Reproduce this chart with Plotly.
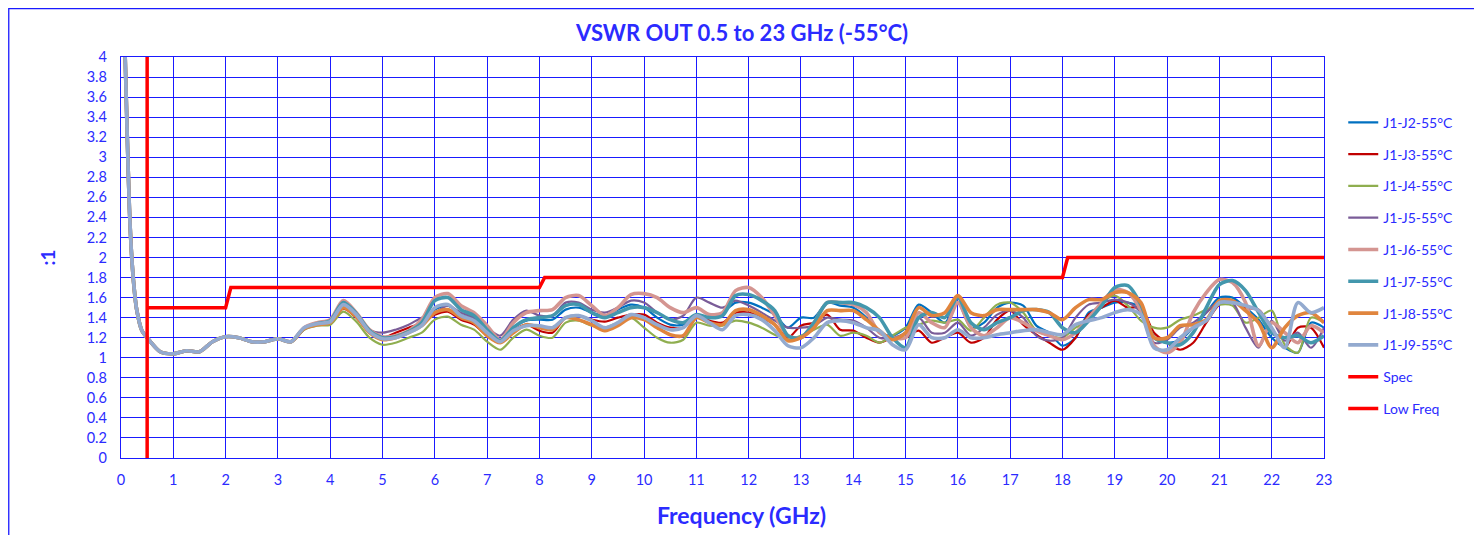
import plotly.graph_objects as go

BLUE = '#1a1aff'
TEXT_BLUE = '#2b2bff'
FONT = 'Lato, Calibri, sans-serif'

# frequency points (GHz)
FREQ = [0.05, 0.08, 0.12, 0.16, 0.2, 0.25, 0.3, 0.4, 0.5, 0.75, 1.0, 1.25, 1.5, 1.75, 2.0,
        2.25, 2.5, 2.75, 3.0, 3.25,
        3.5, 3.75, 4.0, 4.25, 4.5, 4.75, 5.0, 5.25, 5.5, 5.75, 6.0, 6.25, 6.5, 6.75, 7.0,
        7.25, 7.5, 7.75, 8.0, 8.25, 8.5, 8.75, 9.0, 9.25, 9.5, 9.75, 10.0, 10.25, 10.5,
        10.75, 11.0, 11.25, 11.5, 11.75, 12.0, 12.25, 12.5, 12.75, 13.0, 13.25, 13.5,
        13.75, 14.0, 14.25, 14.5, 14.75, 15.0, 15.25, 15.5, 15.75, 16.0, 16.25, 16.5,
        16.75, 17.0, 17.25, 17.5, 17.75, 18.0, 18.25, 18.5, 18.75, 19.0, 19.25, 19.5,
        19.75, 20.0, 20.25, 20.5, 20.75, 21.0, 21.25, 21.5, 21.75, 22.0, 22.25, 22.5,
        22.75, 23.0]

# all ports overlap below 3.5 GHz
LOW_BAND = [4.6, 4.0, 3.2, 2.5, 2.05, 1.7, 1.48, 1.27, 1.2, 1.06, 1.04, 1.07, 1.06, 1.16, 1.21,
            1.2, 1.16, 1.16, 1.19, 1.16]

J2 = LOW_BAND + [1.29, 1.34, 1.36, 1.52, 1.42, 1.26, 1.18, 1.2, 1.26, 1.32, 1.48, 1.52, 1.43, 1.38, 1.25,
                 1.17, 1.3, 1.37, 1.38, 1.38, 1.48, 1.5, 1.45, 1.42, 1.48, 1.53, 1.5, 1.4, 1.33,
                 1.33, 1.4, 1.4, 1.45, 1.55, 1.55, 1.5, 1.43, 1.3, 1.4, 1.4, 1.55, 1.52, 1.5, 1.4,
                 1.25, 1.22, 1.3, 1.53, 1.45, 1.35, 1.55, 1.3, 1.35, 1.5, 1.55, 1.52, 1.32, 1.25,
                 1.12, 1.2, 1.45, 1.5, 1.55, 1.55, 1.5, 1.2, 1.15, 1.18, 1.3, 1.45, 1.6, 1.6, 1.5,
                 1.38, 1.2, 1.1, 1.05, 1.35, 1.3]
J3 = LOW_BAND + [1.29, 1.33, 1.35, 1.49, 1.4, 1.25, 1.2, 1.25, 1.3, 1.35, 1.43, 1.46, 1.38, 1.33, 1.22,
                 1.15, 1.27, 1.33, 1.27, 1.25, 1.4, 1.42, 1.38, 1.36, 1.4, 1.43, 1.43, 1.35, 1.3,
                 1.3, 1.42, 1.37, 1.35, 1.45, 1.45, 1.4, 1.33, 1.2, 1.32, 1.35, 1.43, 1.28, 1.27,
                 1.2, 1.15, 1.2, 1.2, 1.27, 1.15, 1.2, 1.25, 1.15, 1.2, 1.38, 1.47, 1.33, 1.23,
                 1.15, 1.08, 1.2, 1.43, 1.5, 1.57, 1.5, 1.5, 1.25, 1.15, 1.08, 1.15, 1.35, 1.53,
                 1.57, 1.5, 1.48, 1.3, 1.1, 1.3, 1.3, 1.1]
J4 = LOW_BAND + [1.28, 1.32, 1.33, 1.46, 1.36, 1.2, 1.13, 1.15, 1.2, 1.25, 1.38, 1.41, 1.33, 1.28, 1.16,
                 1.08, 1.2, 1.28, 1.22, 1.2, 1.35, 1.37, 1.32, 1.3, 1.35, 1.4, 1.3, 1.2, 1.15,
                 1.18, 1.35, 1.32, 1.32, 1.37, 1.35, 1.3, 1.23, 1.18, 1.22, 1.28, 1.33, 1.22, 1.25,
                 1.22, 1.15, 1.22, 1.3, 1.33, 1.37, 1.35, 1.38, 1.27, 1.4, 1.53, 1.55, 1.45, 1.27,
                 1.22, 1.2, 1.3, 1.37, 1.55, 1.62, 1.52, 1.37, 1.3, 1.3, 1.38, 1.42, 1.48, 1.53,
                 1.52, 1.35, 1.4, 1.47, 1.13, 1.05, 1.4, 1.35]
J5 = LOW_BAND + [1.3, 1.35, 1.37, 1.52, 1.43, 1.28, 1.25, 1.28, 1.33, 1.4, 1.45, 1.52, 1.45, 1.4, 1.3,
                 1.22, 1.38, 1.47, 1.42, 1.42, 1.55, 1.55, 1.48, 1.45, 1.5, 1.57, 1.55, 1.45, 1.38,
                 1.42, 1.6, 1.55, 1.5, 1.57, 1.52, 1.45, 1.37, 1.3, 1.3, 1.32, 1.4, 1.38, 1.37,
                 1.3, 1.2, 1.2, 1.25, 1.4, 1.25, 1.25, 1.35, 1.22, 1.3, 1.43, 1.47, 1.4, 1.22,
                 1.17, 1.2, 1.4, 1.53, 1.55, 1.58, 1.55, 1.45, 1.15, 1.18, 1.3, 1.35, 1.45, 1.57,
                 1.55, 1.3, 1.1, 1.37, 1.17, 1.25, 1.1, 1.3]
J6 = LOW_BAND + [1.3, 1.35, 1.38, 1.57, 1.45, 1.28, 1.21, 1.22, 1.27, 1.38, 1.6, 1.64, 1.52, 1.45, 1.32,
                 1.18, 1.35, 1.45, 1.47, 1.48, 1.6, 1.62, 1.52, 1.42, 1.5, 1.63, 1.64, 1.6, 1.5,
                 1.45, 1.5, 1.43, 1.45, 1.67, 1.7, 1.6, 1.42, 1.22, 1.2, 1.35, 1.55, 1.55, 1.53,
                 1.45, 1.25, 1.2, 1.2, 1.45, 1.35, 1.3, 1.55, 1.3, 1.22, 1.3, 1.4, 1.35, 1.27,
                 1.22, 1.18, 1.25, 1.4, 1.55, 1.68, 1.65, 1.47, 1.12, 1.05, 1.15, 1.45, 1.65, 1.78,
                 1.75, 1.55, 1.12, 1.35, 1.25, 1.15, 1.32, 1.25]
J7 = LOW_BAND + [1.29, 1.34, 1.37, 1.55, 1.44, 1.27, 1.2, 1.21, 1.26, 1.35, 1.57, 1.6, 1.48, 1.42, 1.28,
                 1.17, 1.3, 1.38, 1.4, 1.42, 1.52, 1.53, 1.45, 1.4, 1.45, 1.5, 1.5, 1.45, 1.38,
                 1.35, 1.43, 1.4, 1.42, 1.62, 1.63, 1.57, 1.47, 1.22, 1.2, 1.35, 1.55, 1.55, 1.55,
                 1.5, 1.4, 1.2, 1.1, 1.4, 1.45, 1.4, 1.6, 1.35, 1.28, 1.35, 1.4, 1.47, 1.48, 1.45,
                 1.3, 1.25, 1.37, 1.52, 1.7, 1.72, 1.53, 1.2, 1.15, 1.13, 1.25, 1.5, 1.73, 1.77,
                 1.67, 1.45, 1.25, 1.2, 1.22, 1.15, 1.22]
J8 = LOW_BAND + [1.29, 1.33, 1.35, 1.5, 1.41, 1.25, 1.18, 1.2, 1.25, 1.32, 1.45, 1.48, 1.4, 1.35, 1.22,
                 1.15, 1.25, 1.33, 1.3, 1.28, 1.4, 1.38, 1.33, 1.27, 1.32, 1.4, 1.38, 1.3, 1.23,
                 1.22, 1.4, 1.35, 1.33, 1.47, 1.48, 1.42, 1.33, 1.17, 1.2, 1.3, 1.47, 1.47, 1.47,
                 1.38, 1.27, 1.18, 1.25, 1.5, 1.42, 1.45, 1.62, 1.45, 1.42, 1.48, 1.48, 1.48, 1.48,
                 1.45, 1.38, 1.5, 1.58, 1.58, 1.65, 1.65, 1.55, 1.2, 1.2, 1.32, 1.33, 1.38, 1.57,
                 1.57, 1.47, 1.35, 1.1, 1.3, 1.42, 1.45, 1.35]
J9 = LOW_BAND + [1.3, 1.34, 1.36, 1.53, 1.43, 1.26, 1.19, 1.2, 1.25, 1.32, 1.5, 1.53, 1.42, 1.37, 1.25,
                 1.16, 1.27, 1.32, 1.32, 1.3, 1.4, 1.42, 1.37, 1.3, 1.35, 1.43, 1.4, 1.33, 1.28,
                 1.3, 1.42, 1.35, 1.28, 1.42, 1.43, 1.38, 1.27, 1.12, 1.1, 1.2, 1.35, 1.37, 1.35,
                 1.3, 1.27, 1.13, 1.08, 1.33, 1.2, 1.2, 1.28, 1.2, 1.2, 1.23, 1.25, 1.27, 1.28,
                 1.25, 1.23, 1.33, 1.37, 1.4, 1.45, 1.48, 1.43, 1.1, 1.08, 1.2, 1.3, 1.37, 1.55,
                 1.55, 1.52, 1.47, 1.3, 1.1, 1.55, 1.45, 1.5]

SPEC_F = [0.5, 2.0, 2.1, 8.0, 8.1, 18.0, 18.1, 23.0]
SPEC_V = [1.5, 1.5, 1.7, 1.7, 1.8, 1.8, 2.0, 2.0]
LOWF_F = [0.5, 0.5]
LOWF_V = [0, 4]

series = [
    ('J1-J2-55°C', J2, '#0070c0', 2.2),
    ('J1-J3-55°C', J3, '#c00000', 2.2),
    ('J1-J4-55°C', J4, '#8fae4f', 2.2),
    ('J1-J5-55°C', J5, '#7a5c98', 2.2),
    ('J1-J6-55°C', J6, '#d49591', 3.6),
    ('J1-J7-55°C', J7, '#4397ad', 3.6),
    ('J1-J8-55°C', J8, '#e0853e', 3.6),
    ('J1-J9-55°C', J9, '#93aacf', 3.6),
]

fig = go.Figure()
for i, (name, vals, color, width) in enumerate(series):
    assert len(vals) == len(FREQ), name
    fig.add_trace(go.Scatter(x=FREQ, y=vals, name=name, mode='lines', legendgroup=str(i),
                             line=dict(color=color, width=width, shape='spline', smoothing=0.8)))
fig.add_trace(go.Scatter(x=SPEC_F, y=SPEC_V, name='Spec', mode='lines', legendgroup='s',
                         line=dict(color='#ff0000', width=3.5)))
fig.add_trace(go.Scatter(x=LOWF_F, y=LOWF_V, name='Low Freq', mode='lines', legendgroup='l',
                         line=dict(color='#ff0000', width=3.5)))

axis_common = dict(showgrid=True, gridcolor=BLUE, gridwidth=1.3, zeroline=False,
                   showline=True, linecolor=BLUE, linewidth=1.3, mirror=True,
                   tickfont=dict(family=FONT, size=14.5, color=TEXT_BLUE), ticks='')
fig.update_xaxes(range=[0, 23], dtick=1, tick0=0, ticklabelstandoff=8, **axis_common)
fig.update_yaxes(range=[0, 4], dtick=0.2, tick0=0, ticklabelstandoff=10, **axis_common)

# the page adds an 8px body margin, so the figure is shrunk by 8px to fit the window
fig.update_layout(
    width=1474, height=527,
    margin=dict(l=113, r=158, t=49, b=77),
    paper_bgcolor='white', plot_bgcolor='white',
    showlegend=True,
    legend=dict(x=1.016, y=0.876, xanchor='left', yanchor='top', tracegroupgap=10.6,
                font=dict(family=FONT, size=14, color=TEXT_BLUE), bgcolor='rgba(0,0,0,0)'),
    annotations=[
        dict(text='<b>VSWR OUT 0.5 to 23 GHz (-55°C)</b>', xref='paper', yref='paper',
             x=0.516, y=1.06, showarrow=False, font=dict(family=FONT, size=22, color=TEXT_BLUE),
             yanchor='middle'),
        dict(text='<b>Frequency (GHz)</b>', xref='paper', yref='paper', x=0.516, y=-0.142,
             showarrow=False, font=dict(family=FONT, size=23, color=TEXT_BLUE), yanchor='middle'),
        dict(text='<b>:1</b>', xref='paper', yref='paper', x=-0.0615, y=0.5, textangle=-90,
             xanchor='center', yanchor='middle',
             showarrow=False, font=dict(family=FONT, size=19, color=TEXT_BLUE)),
    ],
    shapes=[
        dict(type='rect', xref='paper', yref='paper', x0=-0.0933, x1=1.1264, y0=-0.3, y1=1.1204,
             line=dict(color=BLUE, width=1.3)),
    ],
)

fig.write_html('out.html')
